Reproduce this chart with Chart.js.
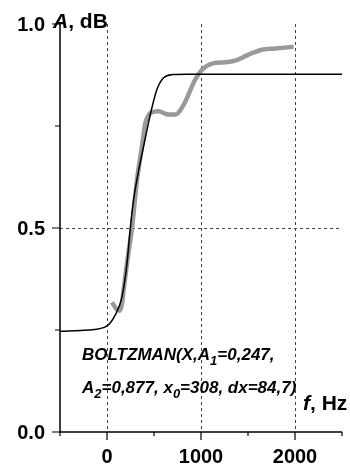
<!DOCTYPE html>
<html>
<head>
<meta charset="utf-8">
<script src="https://cdn.jsdelivr.net/npm/chart.js@4/dist/chart.umd.min.js"></script>
<style>
    body { margin: 0; background: #fff; }
    #wrap { width: 350px; height: 468px; }
</style>
</head>
<body>
<div id="wrap"><canvas id="boltzChart" width="350" height="468"></canvas></div>
<script>
// Boltzmann fit curve (black)
const fitFreq = [-500, -200, 0, 88, 160, 213, 248, 283, 326, 380, 425, 478, 532, 602, 700, 850, 2500];
const fitAmp = [0.247, 0.250, 0.260, 0.287, 0.332, 0.414, 0.500, 0.570, 0.628, 0.690, 0.740, 0.795, 0.840, 0.868, 0.876, 0.877, 0.877];

// measured curve (grey)
const measFreq = [53, 95, 135, 160, 177, 213, 248, 266, 290, 319, 345, 372, 407, 440, 461, 549, 655, 727, 815, 939, 1011, 1117, 1259, 1365, 1506, 1649, 1790, 1985];
const measAmp = [0.318, 0.303, 0.297, 0.315, 0.349, 0.414, 0.471, 0.500, 0.553, 0.618, 0.660, 0.700, 0.757, 0.775, 0.782, 0.786, 0.778, 0.778, 0.802, 0.864, 0.888, 0.903, 0.906, 0.910, 0.925, 0.937, 0.940, 0.944];

// axis ticks
const xMajorTicks = [0, 1000, 2000];
const xMinorTicks = [-500, 500, 1500, 2500];
const yMajorTicks = [0.0, 0.5, 1.0];
const yMinorTicks = [0.25, 0.75];
const xGridLines = [0, 1000, 2000];
const yGridLines = [0.5];

const FONT = "'Liberation Sans', Arial, sans-serif";

// draws a run of text pieces: {t, it (italic), sub (subscript)}
function drawRich(ctx, parts, x, y, size) {
    let cx = x;
    parts.forEach(p => {
        const s = p.sub ? Math.round(size * 0.78) : size;
        ctx.font = (p.it ? 'italic ' : '') + 'bold ' + s + 'px ' + FONT;
        ctx.fillText(p.t, cx, y + (p.sub ? size * 0.32 : 0));
        cx += ctx.measureText(p.t).width;
    });
}

const axesPlugin = {
    id: 'axesPlugin',
    beforeDatasetsDraw(chart) {
        const ctx = chart.ctx;
        const xs = chart.scales.x, ys = chart.scales.y;
        const a = chart.chartArea;
        ctx.save();
        ctx.strokeStyle = '#444';
        ctx.lineWidth = 1;
        ctx.setLineDash([3, 3]);
        xGridLines.forEach(v => {
            const px = Math.round(xs.getPixelForValue(v)) + 0.5;
            ctx.beginPath();
            ctx.moveTo(px, a.top);
            ctx.lineTo(px, a.bottom);
            ctx.stroke();
        });
        yGridLines.forEach(v => {
            const py = Math.round(ys.getPixelForValue(v)) + 0.5;
            ctx.beginPath();
            ctx.moveTo(a.left, py);
            ctx.lineTo(a.right, py);
            ctx.stroke();
        });
        ctx.restore();
    },
    afterDraw(chart) {
        const ctx = chart.ctx;
        const xs = chart.scales.x, ys = chart.scales.y;
        const a = chart.chartArea;
        ctx.save();
        ctx.strokeStyle = '#000';
        ctx.fillStyle = '#000';
        ctx.lineWidth = 1.5;
        // axis lines
        ctx.beginPath();
        ctx.moveTo(a.left, a.top);
        ctx.lineTo(a.left, a.bottom);
        ctx.lineTo(a.right, a.bottom);
        ctx.stroke();
        // ticks
        ctx.lineWidth = 1.2;
        ctx.beginPath();
        xMajorTicks.forEach(v => { const px = xs.getPixelForValue(v); ctx.moveTo(px, a.bottom); ctx.lineTo(px, a.bottom + 8); });
        xMinorTicks.forEach(v => { const px = xs.getPixelForValue(v); ctx.moveTo(px, a.bottom); ctx.lineTo(px, a.bottom + 4); });
        yMajorTicks.forEach(v => { const py = ys.getPixelForValue(v); ctx.moveTo(a.left, py); ctx.lineTo(a.left - 8, py); });
        yMinorTicks.forEach(v => { const py = ys.getPixelForValue(v); ctx.moveTo(a.left, py); ctx.lineTo(a.left - 5, py); });
        ctx.stroke();

        // tick labels
        ctx.font = 'bold 20px ' + FONT;
        ctx.textAlign = 'center';
        ctx.textBaseline = 'alphabetic';
        xMajorTicks.forEach(v => ctx.fillText(String(v), xs.getPixelForValue(v), a.bottom + 31));
        ctx.textAlign = 'right';
        yMajorTicks.forEach(v => ctx.fillText(v.toFixed(1), a.left - 15, ys.getPixelForValue(v) + 7));

        // axis titles
        ctx.textAlign = 'left';
        drawRich(ctx, [{ t: 'A', it: true }, { t: ', dB' }], 53, 28, 21);
        drawRich(ctx, [{ t: 'f', it: true }, { t: ', Hz' }], 303, 410, 21);

        // fit annotation
        drawRich(ctx, [{ t: 'BOLTZMAN(X,A', it: true }, { t: '1', it: true, sub: true }, { t: '=0,247,', it: true }], 82, 360, 17);
        drawRich(ctx, [{ t: 'A', it: true }, { t: '2', it: true, sub: true }, { t: '=0,877, x', it: true }, { t: '0', it: true, sub: true }, { t: '=308, dx=84,7)', it: true }], 82, 393, 17);
        ctx.restore();
    }
};

const ctx = document.getElementById('boltzChart').getContext('2d');
const boltzChart = new Chart(ctx, {
    type: 'scatter',
    data: {
        datasets: [{
            label: 'Boltzmann fit',
            data: fitFreq.map((f, i) => ({ x: f, y: fitAmp[i] })),
            showLine: true,
            borderColor: '#000',
            borderWidth: 1.5,
            pointRadius: 0,
            cubicInterpolationMode: 'monotone'
        }, {
            label: 'A',
            data: measFreq.map((f, i) => ({ x: f, y: measAmp[i] })),
            showLine: true,
            borderColor: '#999999',
            borderWidth: 4.5,
            pointRadius: 0,
            cubicInterpolationMode: 'monotone'
        }]
    },
    options: {
        responsive: false,
        animation: false,
        layout: { padding: { left: 60, right: 8, top: 24, bottom: 36 } },
        scales: {
            x: { type: 'linear', min: -500, max: 2500, display: false },
            y: { type: 'linear', min: 0, max: 1, display: false }
        },
        plugins: {
            legend: { display: false },
            tooltip: { enabled: false }
        }
    },
    plugins: [axesPlugin]
});
</script>
</body>
</html>
